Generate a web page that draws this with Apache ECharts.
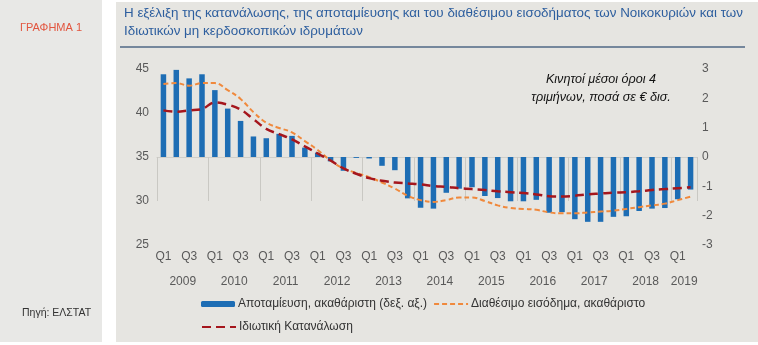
<!DOCTYPE html>
<html>
<head>
<meta charset="utf-8">
<script src="https://cdn.jsdelivr.net/npm/echarts@6/dist/echarts.min.js"></script>
<style>
  html, body { margin: 0; padding: 0; background: #ffffff; }
  #wrap { position: relative; width: 758px; height: 345px; overflow: hidden; }
  .panel { position: absolute; }
  #side { left: 0; top: 0; width: 102px; height: 342px; background: #e8e8e6; }
  #main { left: 116px; top: 2px; width: 642px; height: 340px; background: #e6e5e1; }
  #chart { position: absolute; left: 0; top: 0; width: 758px; height: 345px; }
</style>
</head>
<body>
<div id="wrap">
  <div class="panel" id="side"></div>
  <div class="panel" id="main"></div>
  <div id="chart"></div>
</div>
<script>
// Quarterly series, 2009 Q1 – 2019 Q2 (4-quarter moving averages, € bn)
const years = ['2009', '2010', '2011', '2012', '2013', '2014', '2015', '2016', '2017', '2018', '2019'];
const quartersPerYear = [4, 4, 4, 4, 4, 4, 4, 4, 4, 4, 2];
const quarterNames = ['Q1', 'Q2', 'Q3', 'Q4'];

// Gross saving (right axis)
const saving = [2.82, 2.97, 2.68, 2.82, 2.28, 1.65, 1.23, 0.70, 0.64, 0.79, 0.72, 0.32, 0.15, -0.15,
  -0.47, -0.03, -0.05, -0.30, -0.45, -1.41, -1.73, -1.76, -1.22, -1.08, -1.03, -1.33, -1.40, -1.51,
  -1.51, -1.46, -1.90, -1.88, -2.12, -2.21, -2.21, -2.04, -2.02, -1.84, -1.76, -1.74, -1.44, -1.11];

// Gross disposable income (left axis)
const income = [43.3, 43.4, 43.1, 43.4, 43.4, 42.6, 41.6, 40.1, 38.9, 38.3, 37.8, 36.8, 35.8, 34.6,
  33.7, 33.2, 32.7, 32.1, 31.4, 30.6, 30.1, 29.9, 30.1, 30.4, 30.4, 30.0, 29.5, 29.2,
  29.1, 29.0, 28.7, 28.6, 28.6, 28.7, 28.8, 28.9, 29.1, 29.3, 29.5, 29.7, 30.1, 30.5];

// Private consumption (left axis)
const consumption = [40.3, 40.15, 40.3, 40.45, 41.2, 40.95, 40.4, 39.3, 38.2, 37.6, 37.0, 36.2, 35.4, 34.6,
  33.7, 33.1, 32.6, 32.3, 32.1, 32.0, 31.9, 31.7, 31.6, 31.45, 31.35, 31.25, 31.1, 31.0,
  30.9, 30.75, 30.55, 30.5, 30.6, 30.75, 30.85, 30.95, 31.0, 31.1, 31.25, 31.35, 31.45, 31.55];

const leftTicks = { min: 25, max: 45, interval: 5 };
const rightTicks = { min: -3, max: 3, interval: 1 };

const seriesNames = ['Αποταμίευση, ακαθάριστη (δεξ. αξ.)', 'Διαθέσιμο εισόδημα, ακαθάριστο', 'Ιδιωτική Κατανάλωση'];

// category list: one entry per quarter
const quarters = [];
years.forEach((y, i) => {
  for (let q = 0; q < quartersPerYear[i]; q++) quarters.push(quarterNames[q]);
});
// year label sits at the middle of its group (shifted half a band to the right)
const yearLabelAt = {};
let start = 0;
years.forEach((y, i) => {
  const n = quartersPerYear[i];
  yearLabelAt[start + Math.floor((n - 1) / 2)] = y;
  start += n;
});

const FONT = "'Liberation Sans', Arial, sans-serif";
const chart = echarts.init(document.getElementById('chart'), null, { renderer: 'canvas' });

const legendText = { fontSize: 12, color: '#333333', fontFamily: FONT, padding: [0, 0, 0, -2] };

chart.setOption({
  backgroundColor: 'transparent',
  animation: false,
  textStyle: { fontFamily: FONT },
  grid: { left: 157, right: 61, top: 69, bottom: 100, containLabel: false },
  legend: [
    {
      data: [
        { name: seriesNames[0] },
        { name: seriesNames[1], itemStyle: { opacity: 0 } }
      ],
      left: 196, top: 293,
      itemWidth: 34, itemHeight: 6, itemGap: 6,
      textStyle: legendText,
      selectedMode: false
    },
    {
      data: [{ name: seriesNames[2], itemStyle: { opacity: 0 } }],
      left: 196, top: 316,
      itemWidth: 34, itemHeight: 6,
      textStyle: legendText,
      selectedMode: false
    }
  ],
  xAxis: [
    {
      type: 'category',
      data: quarters,
      position: 'bottom',
      axisLine: { show: true, lineStyle: { color: '#cfcec9', width: 1 } },
      axisTick: {
        show: true,
        length: 44,
        interval: (i) => i % 4 === 0,
        lineStyle: { color: '#c9c8c3', width: 1 }
      },
      axisLabel: { interval: 1, color: '#595959', fontSize: 12, margin: 6, fontFamily: FONT }
    },
    {
      type: 'category',
      data: quarters,
      position: 'bottom',
      offset: 23,
      axisLine: { show: false },
      axisTick: { show: false },
      axisLabel: {
        interval: 0,
        color: '#595959', fontSize: 12, fontFamily: FONT,
        padding: [0, 0, 0, 13],
        formatter: (v, i) => yearLabelAt[i] || ''
      }
    }
  ],
  yAxis: [
    {
      type: 'value',
      min: leftTicks.min, max: leftTicks.max, interval: leftTicks.interval,
      axisLine: { show: false }, axisTick: { show: false }, splitLine: { show: false },
      axisLabel: { color: '#595959', fontSize: 12, margin: 8, fontFamily: FONT }
    },
    {
      type: 'value',
      min: rightTicks.min, max: rightTicks.max, interval: rightTicks.interval,
      axisLine: { show: false }, axisTick: { show: false }, splitLine: { show: false },
      axisLabel: { color: '#595959', fontSize: 12, margin: 5, fontFamily: FONT }
    }
  ],
  series: [
    {
      name: seriesNames[0],
      type: 'bar',
      yAxisIndex: 1,
      data: saving,
      barWidth: 5.5,
      itemStyle: { color: '#1d6db4' },
      z: 2
    },
    {
      name: seriesNames[1],
      type: 'line',
      yAxisIndex: 0,
      data: income,
      smooth: 0.4,
      symbol: 'none',
      lineStyle: { color: '#f0893c', width: 2, type: [5, 3] },
      itemStyle: { color: '#f0893c' },
      z: 3
    },
    {
      name: seriesNames[2],
      type: 'line',
      yAxisIndex: 0,
      data: consumption,
      smooth: 0.4,
      symbol: 'none',
      lineStyle: { color: '#a5161d', width: 2.5, type: [9, 5] },
      itemStyle: { color: '#a5161d' },
      z: 4
    }
  ],
  graphic: {
    elements: [
      {
        type: 'text', left: 20, top: 22,
        style: { text: 'ΓΡΑΦΗΜΑ 1', fill: '#e2553f', font: '11px ' + FONT }
      },
      {
        type: 'text', left: 22, top: 308,
        style: { text: 'Πηγή: ΕΛΣΤΑΤ', fill: '#333333', font: '10.5px ' + FONT }
      },
      {
        type: 'text', left: 124, top: 4,
        style: {
          text: 'Η εξέλιξη της κατανάλωσης, της αποταμίευσης και του διαθέσιμου εισοδήματος των Νοικοκυριών και των\nΙδιωτικών μη κερδοσκοπικών ιδρυμάτων',
          fill: '#2d5e9e', font: '13.4px ' + FONT, lineHeight: 18
        }
      },
      {
        type: 'line',
        shape: { x1: 120, y1: 47, x2: 745, y2: 47 },
        style: { stroke: '#4f6784', lineWidth: 1.5 }
      },
      {
        type: 'text', x: 601, y: 70,
        style: {
          text: 'Κινητοί μέσοι όροι 4\nτριμήνων, ποσά σε € δισ.',
          fill: '#111111', font: 'italic 12.6px ' + FONT, lineHeight: 18, align: 'center'
        }
      }
    ]
  }
});
</script>
</body>
</html>
